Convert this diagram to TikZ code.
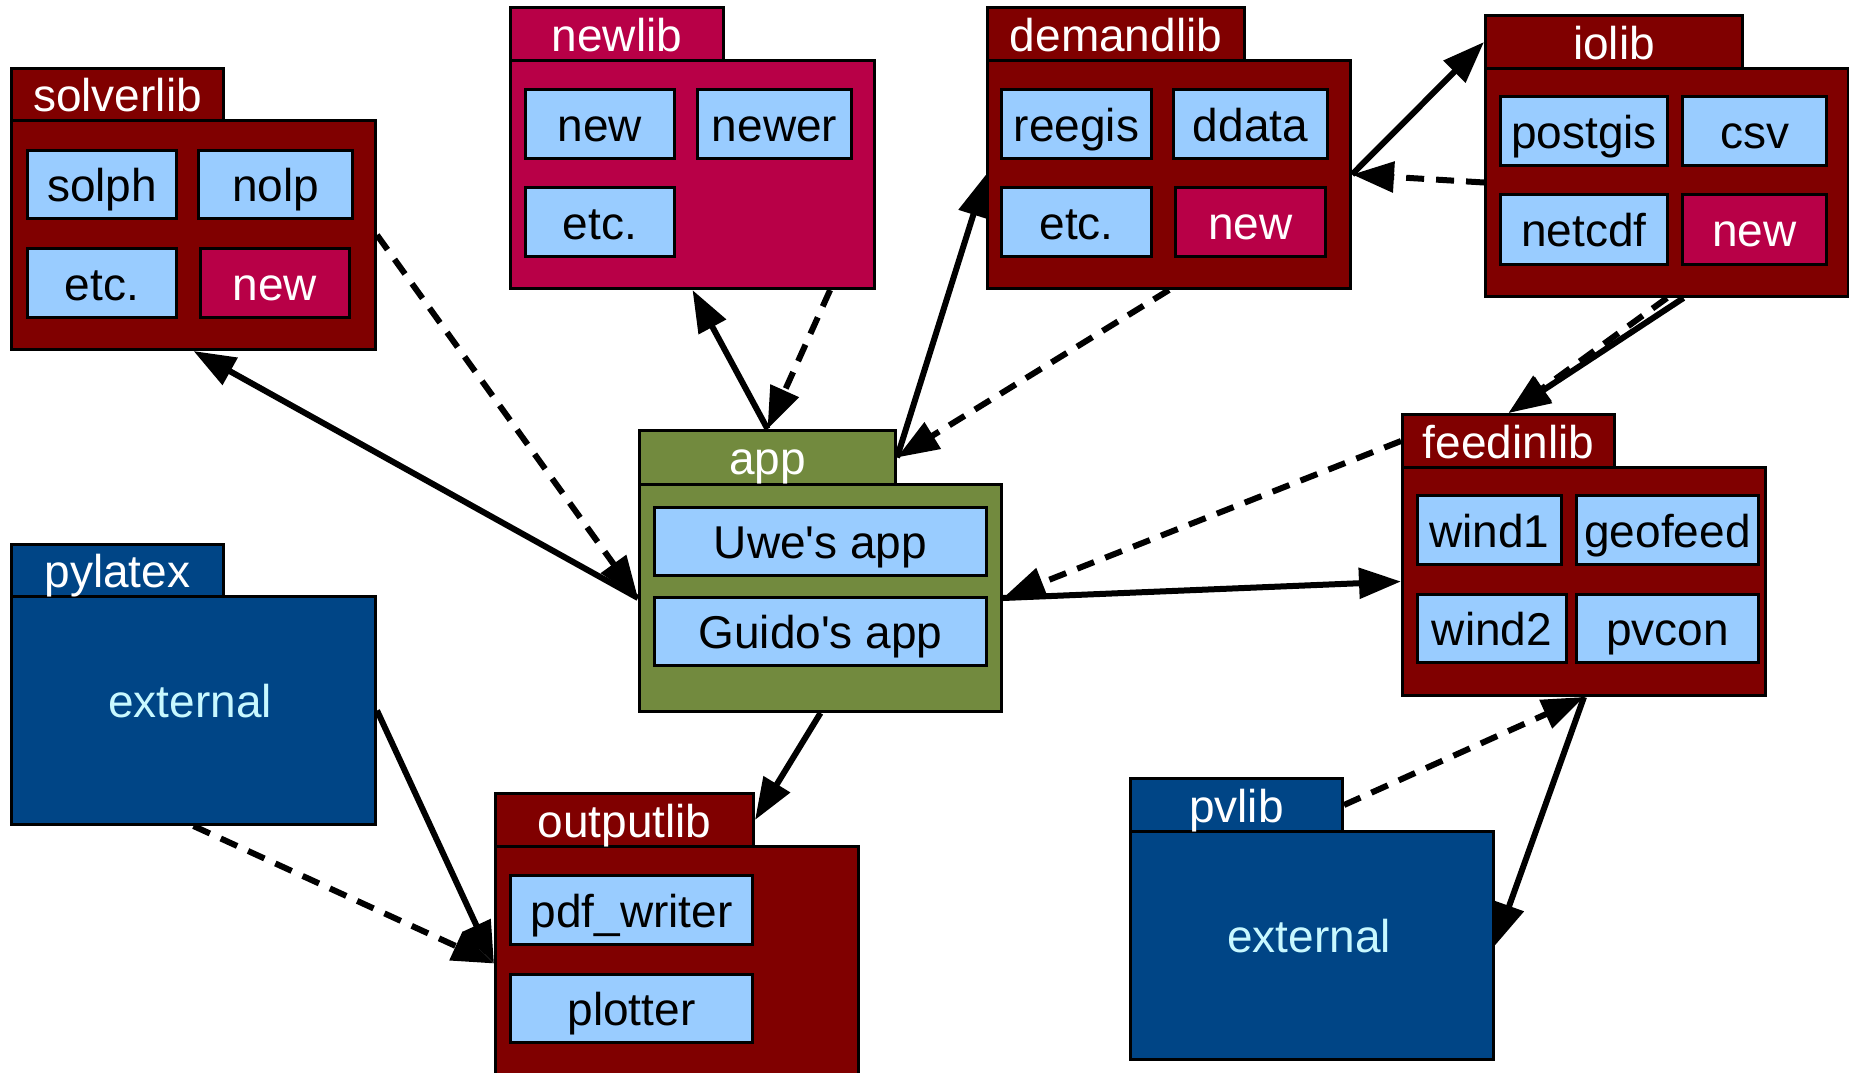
\documentclass[tikz,border=0pt]{standalone}
\usepackage{fontspec}
\setmainfont{Liberation Sans}[Ligatures=TeXOff]
\usetikzlibrary{arrows.meta,calc}

\definecolor{libred}{HTML}{800000}
\definecolor{newred}{HTML}{B80047}
\definecolor{itemblue}{HTML}{99CCFF}
\definecolor{appgreen}{HTML}{728A3E}
\definecolor{extblue}{HTML}{004586}
\definecolor{extcyan}{HTML}{C8F8FF}

\newcommand{\pkgfont}{\fontsize{23}{27}\selectfont}

\tikzset{
  pkgtab/.style={draw, line width=1.5pt, anchor=north west, inner sep=0pt,
    text=white, font=\pkgfont, text height=20pt, text depth=3pt},
  pkgbody/.style={draw, line width=1.5pt, anchor=north west, inner sep=0pt},
  item/.style={draw, line width=1.5pt, fill=itemblue, anchor=north west, inner sep=0pt,
    font=\pkgfont, text height=20pt, text depth=3pt},
  newitem/.style={item, fill=newred, text=white},
  exttext/.style={text=extcyan, font=\pkgfont, text height=20pt, text depth=3pt, inner sep=0pt},
  dep/.style={line width=3pt, -{Triangle[length=21pt,width=15pt]}},
  use/.style={dep, dash pattern=on 9pt off 6pt},
}

\begin{document}
\begin{tikzpicture}[x=0.5pt, y=-0.5pt]
	\useasboundingbox (0,0) rectangle (1849,1072);

	% solverlib
	\node[pkgbody, fill=libred, minimum width=182pt, minimum height=114.5pt] (solverlib) at (10,119) {};
	\node[pkgtab, fill=libred, minimum width=106pt, minimum height=26pt] (solverlibtab) at (10,67) {solverlib};
	\node[item, minimum width=74.5pt, minimum height=34pt] (solph) at (26,149) {solph};
	\node[item, minimum width=77pt, minimum height=34pt] (nolp) at (197,149) {nolp};
	\node[item, minimum width=74.5pt, minimum height=34.5pt] (solveretc) at (26,247) {etc.};
	\node[newitem, minimum width=74.5pt, minimum height=34.5pt] (solvernew) at (199,247) {new};

	% newlib
	\node[pkgbody, fill=newred, minimum width=182pt, minimum height=114pt] (newlib) at (509,59) {};
	\node[pkgtab, fill=newred, minimum width=106.5pt, minimum height=26.5pt] (newlibtab) at (509,6) {newlib};
	\node[item, minimum width=74.5pt, minimum height=34.5pt] (newlibnew) at (524,88) {new};
	\node[item, minimum width=77pt, minimum height=34.5pt] (newer) at (696,88) {newer};
	\node[item, minimum width=74.5pt, minimum height=34.5pt] (newlibetc) at (524,186) {etc.};

	% demandlib
	\node[pkgbody, fill=libred, minimum width=181.5pt, minimum height=114pt] (demandlib) at (986,59) {};
	\node[pkgtab, fill=libred, minimum width=128.5pt, minimum height=26.5pt] (demandlibtab) at (986,6) {demandlib};
	\node[item, minimum width=75pt, minimum height=34.5pt] (reegis) at (1000,88) {reegis};
	\node[item, minimum width=77pt, minimum height=34.5pt] (ddata) at (1172,88) {ddata};
	\node[item, minimum width=75pt, minimum height=34.5pt] (demandetc) at (1000,186) {etc.};
	\node[newitem, minimum width=75pt, minimum height=34.5pt] (demandnew) at (1174,186) {new};

	% iolib
	\node[pkgbody, fill=libred, minimum width=181.5pt, minimum height=114pt] (iolib) at (1484,67) {};
	\node[pkgtab, fill=libred, minimum width=128.5pt, minimum height=26.5pt] (iolibtab) at (1484,14) {iolib};
	\node[item, minimum width=83.5pt, minimum height=34.5pt] (postgis) at (1499,95) {postgis};
	\node[item, minimum width=72pt, minimum height=34.5pt] (csv) at (1681,95) {csv};
	\node[item, minimum width=83.5pt, minimum height=35pt] (netcdf) at (1499,193) {netcdf};
	\node[newitem, minimum width=72pt, minimum height=35pt] (ionew) at (1681,193) {new};

	% app
	\node[pkgbody, fill=appgreen, minimum width=181pt, minimum height=113.5pt] (app) at (638,483) {};
	\node[pkgtab, fill=appgreen, minimum width=128pt, minimum height=27pt] (apptab) at (638,429) {app};
	\node[item, minimum width=166pt, minimum height=34pt] (uwe) at (653,506) {Uwe's app};
	\node[item, minimum width=166pt, minimum height=34pt] (guido) at (653,596) {Guido's app};

	% outputlib
	\node[pkgbody, fill=libred, minimum width=181.5pt, minimum height=117pt] (outputlib) at (494,845) {};
	\node[pkgtab, fill=libred, minimum width=129pt, minimum height=26.5pt] (outputlibtab) at (494,792) {outputlib};
	\node[item, minimum width=121pt, minimum height=34.5pt] (pdfwriter) at (509,874) {pdf\_writer};
	\node[item, minimum width=121pt, minimum height=34pt] (plotter) at (509,973) {plotter};

	% pylatex
	\node[pkgbody, fill=extblue, minimum width=182pt, minimum height=114pt] (pylatex) at (10,595) {};
	\node[pkgtab, fill=extblue, minimum width=106pt, minimum height=26pt] (pylatextab) at (10,543) {pylatex};
	\node[exttext] (pylatexext) at (190,700) {external};

	% feedinlib
	\node[pkgbody, fill=libred, minimum width=181.5pt, minimum height=114pt] (feedinlib) at (1401,466) {};
	\node[pkgtab, fill=libred, minimum width=106pt, minimum height=26.5pt] (feedinlibtab) at (1401,413) {feedinlib};
	\node[item, minimum width=72pt, minimum height=34.5pt] (wind1) at (1416,494) {wind1};
	\node[item, minimum width=91pt, minimum height=34.5pt] (geofeed) at (1575,494) {geofeed};
	\node[item, minimum width=74.5pt, minimum height=34pt] (wind2) at (1416,593) {wind2};
	\node[item, minimum width=91pt, minimum height=34pt] (pvcon) at (1575,593) {pvcon};

	% pvlib
	\node[pkgbody, fill=extblue, minimum width=181.5pt, minimum height=114pt] (pvlib) at (1129,830) {};
	\node[pkgtab, fill=extblue, minimum width=106pt, minimum height=26.5pt] (pvlibtab) at (1129,777) {pvlib};
	\node[exttext] (pvlibext) at (1309,935) {external};

	% Dependencies
	\draw[dep] (app.west) -- (solverlib.south);
	\draw[use] (solverlib.east) -- (app.west);
	\draw[dep] (apptab.north) -- (newlib.south);
	\draw[use] ($(newlib.south west)!0.875!(newlib.south east)$) -- (apptab.north);
	\draw[dep] (apptab.east) -- (demandlib.west);
	\draw[use] (demandlib.south) -- (apptab.east);
	\draw[dep] (demandlib.east) -- (iolibtab.west);
	\draw[use] (iolib.west) -- (demandlib.east);
	\draw[use] (iolib.south) -- (feedinlibtab.north);
	\draw[dep] ($(iolib.south west)!0.545!(iolib.south east)$) -- (feedinlibtab.north);
	\draw[dep] (app.east) -- (feedinlib.west);
	\draw[use] (feedinlibtab.west) -- (app.east);
	\draw[use] (pvlibtab.east) -- (feedinlib.south);
	\draw[dep] (feedinlib.south) -- (pvlib.east);
	\draw[dep] (app.south) -- (outputlibtab.east);
	\draw[dep] (pylatex.east) -- (outputlib.west);
	\draw[use] (pylatex.south) -- (outputlib.west);
\end{tikzpicture}
\end{document}
